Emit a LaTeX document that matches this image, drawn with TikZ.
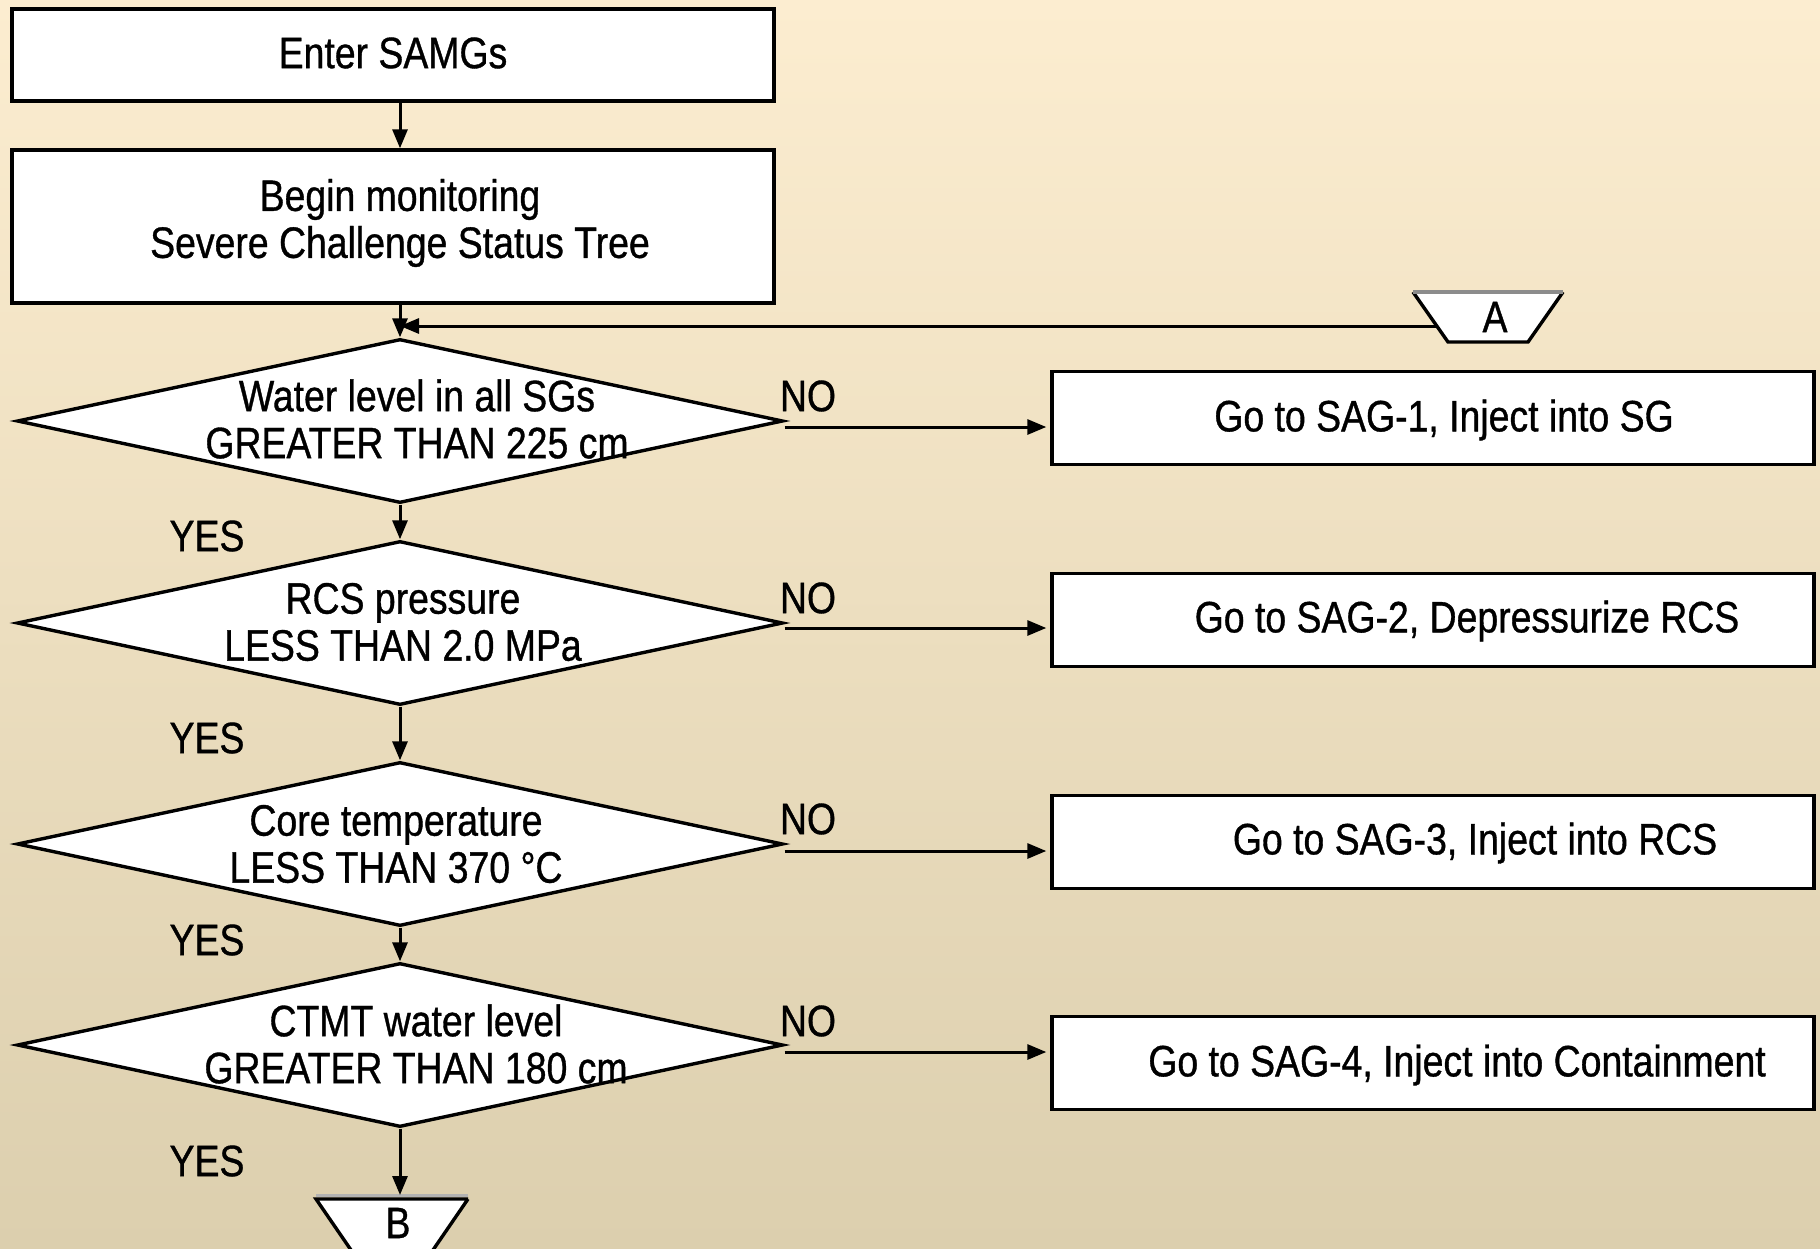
\documentclass[tikz,border=0pt]{standalone}
\usepackage{fontspec}
\setmainfont[FakeStretch=0.85,FakeBold=0.8]{Liberation Sans}
\usetikzlibrary{shapes.geometric,arrows.meta}
\definecolor{bgtop}{HTML}{FCEDD0}
\definecolor{bgbot}{HTML}{DCCFAE}
\begin{document}
\begin{tikzpicture}[x=1pt,y=-1pt,
  every node/.style={font=\fontsize{44}{47}\selectfont},
  stepbox/.style={draw,line width=3.4pt,fill=white,rectangle,inner sep=0pt,minimum width=762pt},
  decision/.style={draw,line width=3.4pt,fill=white,diamond,inner sep=0pt,
                   minimum width=766pt,minimum height=164pt},
  txt/.style={align=center,inner sep=0pt},
  conn/.style={line width=3pt,-{Triangle[length=19pt,width=15pt]}},
  offedge/.style={line width=3.4pt,line join=miter},
  offtop/.style={line width=4.5pt,draw=black!45}
]
% page and background
\useasboundingbox (0,0) rectangle (1820,1248);
\shade[top color=bgtop,bottom color=bgbot] (0,0) rectangle (1820,1248);

% main column
\node[stepbox,minimum height=92pt] (enter) at (393,55) {};
\node[txt] (enterT) at (393,53) {Enter SAMGs};

\node[stepbox,minimum height=153pt] (monitor) at (393,226.5) {};
\node[txt] (monitorT) at (400,223) {Begin monitoring\\Severe Challenge Status Tree};

\node[decision] (d1) at (400,421) {};
\node[txt] (d1T) at (417,419) {Water level in all SGs\\GREATER THAN 225 cm};

\node[decision] (d2) at (400,623) {};
\node[txt] (d2T) at (403,622) {RCS pressure\\LESS THAN 2.0 MPa};

\node[decision] (d3) at (400,844) {};
\node[txt] (d3T) at (396,844) {Core temperature\\LESS THAN 370 °C};

\node[decision] (d4) at (400,1045) {};
\node[txt] (d4T) at (416,1044) {CTMT water level\\GREATER THAN 180 cm};

% severe accident guidelines
\node[stepbox,minimum height=93pt] (s1) at (1433,418) {};
\node[txt] (s1T) at (1444,420) {Go to SAG-1, Inject into SG};
\node[stepbox,minimum height=93pt] (s2) at (1433,620) {};
\node[txt] (s2T) at (1467,621) {Go to SAG-2, Depressurize RCS};
\node[stepbox,minimum height=93pt] (s3) at (1433,842) {};
\node[txt] (s3T) at (1475,843) {Go to SAG-3, Inject into RCS};
\node[stepbox,minimum height=93pt] (s4) at (1433,1063) {};
\node[txt] (s4T) at (1457,1065) {Go to SAG-4, Inject into Containment};

% branch labels
\node[txt] (no1) at (808,396) {NO};
\node[txt] (no2) at (808,598) {NO};
\node[txt] (no3) at (808,819) {NO};
\node[txt] (no4) at (808,1021) {NO};
\node[txt] (yes1) at (207,536) {YES};
\node[txt] (yes2) at (207,738) {YES};
\node[txt] (yes3) at (207,940) {YES};
\node[txt] (yes4) at (207,1161) {YES};

% off-page connector A
\coordinate (aTL) at (1413,292);
\coordinate (aTR) at (1563,292);
\coordinate (aBR) at (1528,342);
\coordinate (aBL) at (1448,342);
\fill[white] (aTL) -- (aTR) -- (aBR) -- (aBL) -- cycle;
\draw[offedge] (aTR) -- (aBR) -- (aBL) -- (aTL);
\draw[offtop] (aTL) -- (aTR);
\node[txt] (labA) at (1495,317) {A};
\coordinate (aIn) at (1437,326);

% off-page connector B
\coordinate (bTL) at (316,1199);
\coordinate (bTR) at (468,1199);
\coordinate (bBR) at (433,1250);
\coordinate (bBL) at (351,1250);
\fill[white] (bTL) -- (bTR) -- (bBR) -- (bBL) -- cycle;
\draw[offedge] (bTR) -- (bBR) (bBL) -- (bTL) -- (bTR);
\draw[line width=3pt,draw=black!30] (316,1195.5) -- (468,1195.5);
\node[txt] (labB) at (398,1223) {B};
\coordinate (bIn) at (400,1195);

% connectors down the column
\draw[conn] ([xshift=7pt]enter.south) -- ([xshift=7pt]monitor.north);
\draw[conn] ([xshift=7pt]monitor.south) -- (d1.north);
\draw[conn] (aIn) -- (aIn -| d1.north);
\draw[conn] (d1.south) -- (d2.north);
\draw[conn] (d2.south) -- (d3.north);
\draw[conn] (d3.south) -- (d4.north);
\draw[conn] (d4.south) -- (bIn);

% NO branches
\draw[conn,shorten >=4pt] ([yshift=-6pt]d1.east) -- ([yshift=-6pt]d1.east -| s1.west);
\draw[conn,shorten >=4pt] ([yshift=-5pt]d2.east) -- ([yshift=-5pt]d2.east -| s2.west);
\draw[conn,shorten >=4pt] ([yshift=-7pt]d3.east) -- ([yshift=-7pt]d3.east -| s3.west);
\draw[conn,shorten >=4pt] ([yshift=-7pt]d4.east) -- ([yshift=-7pt]d4.east -| s4.west);
\end{tikzpicture}
\end{document}
